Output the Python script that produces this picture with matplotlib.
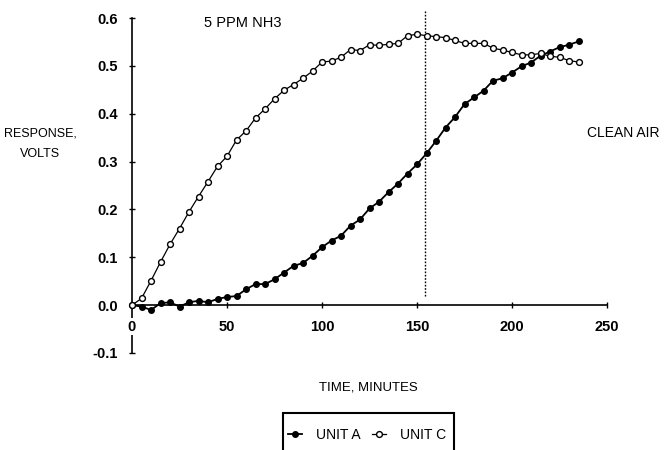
import matplotlib
matplotlib.use("Agg")
import matplotlib.pyplot as plt
from matplotlib.lines import Line2D
from matplotlib.patches import Rectangle

plt.rcParams['font.family'] = ['Liberation Sans', 'DejaVu Sans']

# sampling times, minutes
time_min = list(range(0, 240, 5))

# response, volts
unit_a = [0.000, -0.003, -0.010, 0.004, 0.006, -0.003, 0.006, 0.009, 0.006, 0.013,
          0.017, 0.019, 0.033, 0.044, 0.044, 0.054, 0.068, 0.082, 0.088, 0.103,
          0.121, 0.135, 0.145, 0.166, 0.179, 0.202, 0.216, 0.236, 0.254, 0.275,
          0.294, 0.317, 0.343, 0.371, 0.393, 0.420, 0.434, 0.448, 0.469, 0.474,
          0.486, 0.499, 0.507, 0.521, 0.530, 0.539, 0.544, 0.551]
unit_c = [0.000, 0.014, 0.051, 0.090, 0.127, 0.160, 0.195, 0.227, 0.258, 0.290,
          0.311, 0.345, 0.364, 0.391, 0.410, 0.431, 0.449, 0.461, 0.474, 0.489,
          0.508, 0.510, 0.518, 0.534, 0.532, 0.544, 0.543, 0.545, 0.547, 0.563,
          0.566, 0.563, 0.561, 0.559, 0.553, 0.547, 0.547, 0.547, 0.537, 0.533,
          0.528, 0.523, 0.523, 0.526, 0.520, 0.518, 0.511, 0.508]

# gas switched off here
switch_time = 154
switch_span = (0.02, 0.615)

x_ticks = [0, 50, 100, 150, 200, 250]
y_ticks = [-0.1, 0.0, 0.1, 0.2, 0.3, 0.4, 0.5, 0.6]

fig = plt.figure(figsize=(6.72, 4.5), dpi=100)
ax = fig.add_axes([132 / 672, 1 - 353 / 450, 475 / 672, 335 / 450])

style_a = dict(color='black', lw=1.3, marker='o', ms=4, mfc='black', mec='black')
style_c = dict(color='black', lw=0.9, marker='o', ms=4.2, mfc='white', mec='black', mew=1.0)

ax.plot(time_min, unit_a, clip_on=False, zorder=3, **style_a)
ax.plot(time_min, unit_c, clip_on=False, zorder=4, **style_c)
ax.plot([switch_time, switch_time], switch_span, color='black', lw=1.0,
        linestyle=(0, (1.2, 1.2)), clip_on=False)

ax.set_xlim(0, 250)
ax.set_ylim(-0.1, 0.6)
ax.set_xticks(x_ticks)
ax.set_yticks(y_ticks)
ax.set_yticklabels([f"{v:.1f}" for v in y_ticks])

for s in ['top', 'right']:
    ax.spines[s].set_visible(False)
ax.spines['bottom'].set_position(('data', 0))
ax.spines['bottom'].set_linewidth(1.2)
ax.spines['left'].set_linewidth(1.2)
ax.tick_params(axis='both', direction='inout', length=5, width=1.0, labelsize=10.5)
ax.tick_params(axis='x', pad=8)
ax.tick_params(axis='y', pad=7.5)
for lab in ax.get_xticklabels() + ax.get_yticklabels():
    lab.set_fontweight('bold')
# the "0" under the origin sits on a white patch over the y axis
ax.xaxis.set_zorder(3)
ax.get_xticklabels()[0].set_bbox(dict(fc='white', ec='none', pad=1))

ax.text(58.5, 0.59, "5 PPM NH3", ha='center', va='center', fontsize=10.5)
ax.text(258.5, 0.36, "CLEAN AIR", ha='center', va='center', fontsize=10, clip_on=False)

fig.text(40 / 672, 1 - 144 / 450, "RESPONSE,\nVOLTS", ha='center', va='center',
         fontsize=9, linespacing=1.9)
fig.text(368 / 672, 1 - 387 / 450, "TIME, MINUTES", ha='center', va='center', fontsize=9.5)

# legend box runs off the bottom of the page in the original
fig.patches.append(Rectangle((283 / 672, -0.05), 171 / 672, 0.05 + (1 - 413 / 450),
                             transform=fig.transFigure, fill=False, ec='black', lw=1.5))
handles = [Line2D([], [], **style_a), Line2D([], [], **style_c)]
fig.legend(handles, ["UNIT A", "UNIT C"], loc='center', bbox_to_anchor=(367 / 672, 1 - 435 / 450),
           ncol=2, frameon=False, fontsize=10, handlelength=1.0, handletextpad=1.0,
           columnspacing=0.8, borderpad=0.2)

fig.savefig("out.png", dpi=100)
